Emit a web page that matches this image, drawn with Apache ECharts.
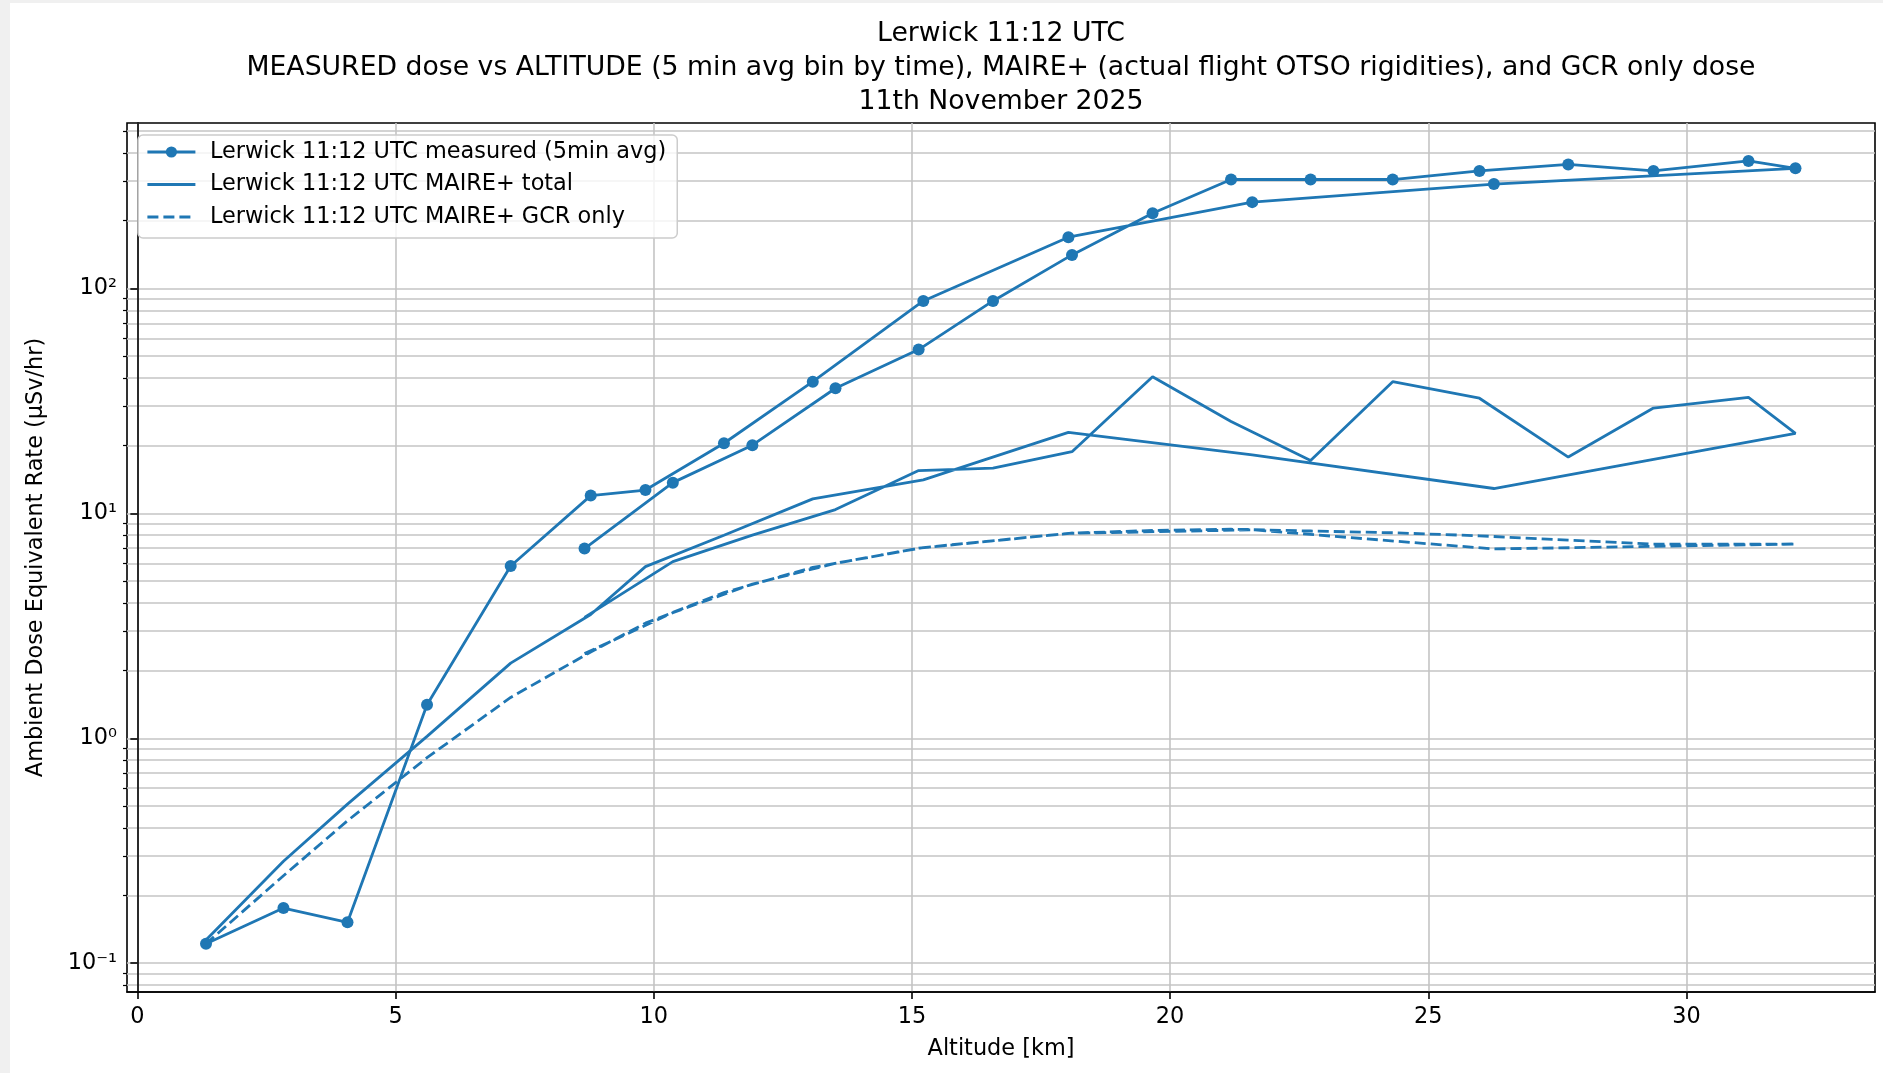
<!DOCTYPE html>
<html>
<head>
<meta charset="utf-8">
<title>Lerwick 11:12 UTC - dose vs altitude</title>
<script src="https://cdn.jsdelivr.net/npm/echarts@6/dist/echarts.min.js"></script>
<style>
  html, body { margin: 0; padding: 0; background: #fff; }
  #chart { width: 1883px; height: 1073px; }
</style>
</head>
<body>
<div id="chart"></div>
<script>
// flight bins in time order: ascent from 8.7 km up to burst, then descent to 1.3 km
var altitudeKm = [8.66, 10.37, 11.91, 13.52, 15.13, 16.57, 18.10, 19.66, 21.18, 22.72, 24.31, 25.99, 27.71, 29.36, 31.20, 32.11,
                  26.27, 21.59, 18.03, 15.22, 13.08, 11.36, 9.84, 8.78, 7.23, 5.61, 4.07, 2.83, 1.33];
// measured dose (5 min avg), uSv/hr
var measured = [6.98, 13.7, 20.1, 36.0, 53.5, 88, 141, 216, 305, 305, 305, 333, 356, 333, 369, 342,
                291, 242, 169, 88, 38.5, 20.5, 12.7, 12.0, 5.84, 1.41, 0.152, 0.176, 0.122];
// MAIRE+ total
var maireTotal = [3.45, 6.1, 8.0, 10.4, 15.5, 15.9, 18.8, 40.5, 25.6, 17.2, 38.5, 32.5, 17.8, 29.4, 32.8, 22.7,
                  12.9, 18.2, 22.9, 14.1, 11.6, 8.0, 5.8, 3.55, 2.16, 1.02, 0.51, 0.284, 0.127];
// MAIRE+ GCR only
var maireGcr = [2.38, 3.62, 4.85, 6.0, 7.0, 7.55, 8.17, 8.4, 8.5, 8.35, 8.2, 7.95, 7.6, 7.3, 7.3, 7.3,
                6.95, 8.45, 8.15, 7.05, 5.75, 4.45, 3.25, 2.42, 1.52, 0.82, 0.43, 0.245, 0.122];

var seriesNames = ['Lerwick 11:12 UTC measured (5min avg)', 'Lerwick 11:12 UTC MAIRE+ total', 'Lerwick 11:12 UTC MAIRE+ GCR only'];

var xTicks = [0, 5, 10, 15, 20, 25, 30];
var yMajor = [0.1, 1, 10, 100];
var yMinor = [0.08, 0.09, 0.2, 0.3, 0.4, 0.5, 0.6, 0.7, 0.8, 0.9,
              2, 3, 4, 5, 6, 7, 8, 9, 20, 30, 40, 50, 60, 70, 80, 90, 200, 300, 400, 500];

var FONT = 'DejaVu Sans';
var FS = 22.4;
var BLUE = '#1f77b4';
var GRID = '#c4c4c4';
var LW = 2.8;
var sup = { '-1': '⁻¹', '0': '⁰', '1': '¹', '2': '²' };

function pairs(ys) {
  return altitudeKm.map(function (x, i) { return [x, ys[i]]; });
}

var chart = echarts.init(document.getElementById('chart'), null, { renderer: 'canvas' });

var logAxisBase = {
  type: 'log',
  logBase: 10,
  min: 0.0745,
  max: 544,
  position: 'left'
};

var option = {
  animation: false,
  backgroundColor: '#fff',
  graphic: [
    { type: 'rect', left: 0, top: 0, shape: { width: 10, height: 1073 }, style: { fill: '#f0f0f0' }, silent: true },
    { type: 'rect', left: 0, top: 0, shape: { width: 1883, height: 3 }, style: { fill: '#f0f0f0' }, silent: true }
  ],
  title: {
    text: 'Lerwick 11:12 UTC\nMEASURED dose vs ALTITUDE (5 min avg bin by time), MAIRE+ (actual flight OTSO rigidities), and GCR only dose\n11th November 2025',
    left: 1001,
    top: 17,
    textAlign: 'center',
    padding: 0,
    textStyle: { fontFamily: FONT, fontSize: 26.7, fontWeight: 'normal', color: '#000', lineHeight: 34 }
  },
  legend: {
    orient: 'vertical',
    left: 138,
    top: 135,
    itemWidth: 48,
    itemHeight: 14,
    itemGap: 10.5,
    padding: [6, 11, 10, 8],
    backgroundColor: 'rgba(255,255,255,0.8)',
    borderColor: '#cccccc',
    borderWidth: 1.5,
    borderRadius: 5,
    lineStyle: { width: LW },
    textStyle: { fontFamily: FONT, fontSize: FS, color: '#000', padding: [0, 0, 0, 9.5] },
    data: [
      { name: seriesNames[0] },
      { name: seriesNames[1], itemStyle: { opacity: 0 } },
      { name: seriesNames[2], itemStyle: { opacity: 0 } }
    ]
  },
  grid: {
    left: 127, right: 8, top: 123, bottom: 81,
    show: true, borderColor: '#000', borderWidth: 1.6, backgroundColor: 'transparent'
  },
  xAxis: {
    type: 'value',
    min: -0.2,
    max: 33.65,
    name: 'Altitude [km]',
    nameLocation: 'middle',
    nameGap: 46,
    nameTextStyle: { fontFamily: FONT, fontSize: FS, color: '#000' },
    axisLine: { show: true, lineStyle: { color: '#000', width: 1.6 } },
    axisTick: { show: true, customValues: xTicks, length: 7, lineStyle: { color: '#000', width: 1.6 } },
    axisLabel: { customValues: xTicks, fontFamily: FONT, fontSize: FS, color: '#000', margin: 14 },
    splitLine: { show: true, lineStyle: { color: GRID, width: 1.6 } }
  },
  yAxis: [
    Object.assign({}, logAxisBase, {
      name: 'Ambient Dose Equivalent Rate (μSv/hr)',
      nameLocation: 'middle',
      nameGap: 80,
      nameRotate: 90,
      nameTextStyle: { fontFamily: FONT, fontSize: FS, color: '#000' },
      axisLine: { show: true, lineStyle: { color: '#000', width: 1.6 } },
      axisTick: { show: true, customValues: yMajor, length: 7, lineStyle: { color: '#000', width: 1.6 } },
      axisLabel: {
        customValues: yMajor, fontFamily: FONT, fontSize: FS, color: '#000', margin: 10,
        formatter: function (v) { return '10' + sup[String(Math.round(Math.log10(v)))]; }
      },
      splitLine: { show: true, lineStyle: { color: GRID, width: 1.6 } }
    }),
    Object.assign({}, logAxisBase, {
      axisLine: { show: false },
      axisTick: { show: true, customValues: yMinor, length: 4, lineStyle: { color: '#000', width: 1.2 } },
      axisLabel: { show: false },
      splitLine: { show: true, lineStyle: { color: GRID, width: 1.6 } }
    })
  ],
  series: [
    {
      name: seriesNames[0],
      type: 'line',
      yAxisIndex: 0,
      data: pairs(measured),
      symbol: 'circle',
      symbolSize: 12,
      showSymbol: true,
      itemStyle: { color: BLUE },
      lineStyle: { color: BLUE, width: LW }
    },
    {
      name: seriesNames[1],
      type: 'line',
      yAxisIndex: 0,
      data: pairs(maireTotal),
      symbol: 'none',
      itemStyle: { color: BLUE },
      lineStyle: { color: BLUE, width: LW }
    },
    {
      name: seriesNames[2],
      type: 'line',
      yAxisIndex: 0,
      data: pairs(maireGcr),
      symbol: 'none',
      itemStyle: { color: BLUE },
      lineStyle: { color: BLUE, width: LW, type: [11, 5] }
    }
  ]
};

chart.setOption(option);
</script>
</body>
</html>
